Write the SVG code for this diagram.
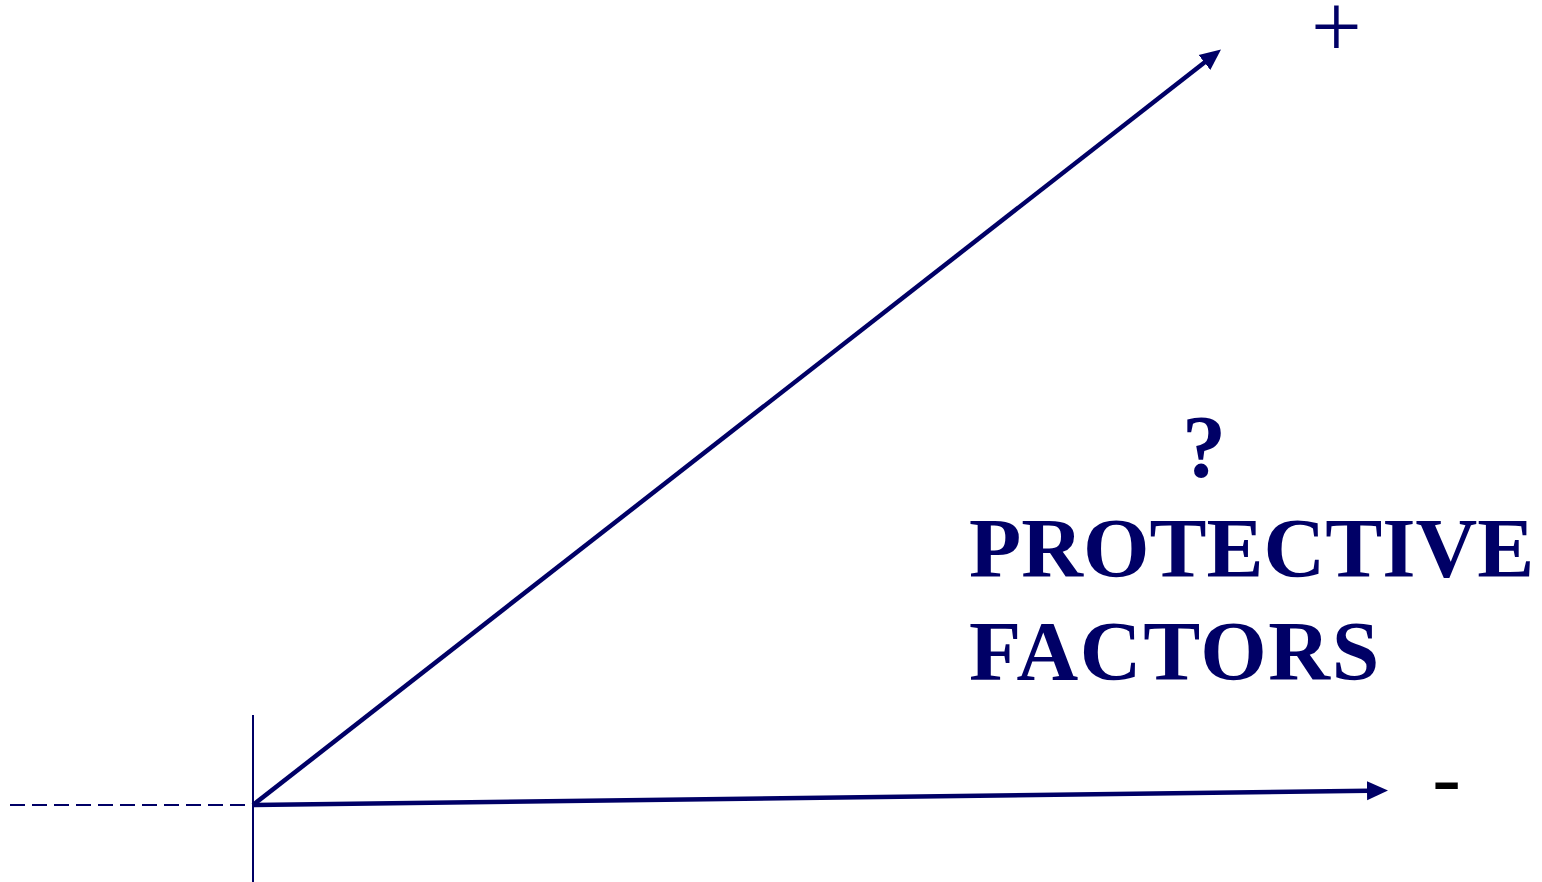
<svg xmlns="http://www.w3.org/2000/svg" width="1542" height="882" viewBox="0 0 1542 882">
<style>
.ln{stroke:#000066;fill:none}
.lbl{font-family:"Liberation Serif","Times New Roman",serif;font-weight:bold;fill:#000066}
</style>
<defs>
<marker id="ah" markerUnits="userSpaceOnUse" markerWidth="22" markerHeight="20" viewBox="0 -10 22 20" refX="2" refY="0" orient="auto">
<path d="M0,-9.5 L21,0 L0,9.5 Z" fill="#000066"/>
</marker>
</defs>
<rect width="1542" height="882" fill="#ffffff"/>
<g id="connectors">
<line class="ln" x1="10" y1="805" x2="253" y2="805" stroke-width="2" stroke-dasharray="15,7"/>
<line class="ln" x1="253" y1="715" x2="253" y2="882" stroke-width="2"/>
<line class="ln" x1="253" y1="805" x2="1206.02" y2="61.19" stroke-width="4.5" marker-end="url(#ah)"/>
<line class="ln" x1="253" y1="805" x2="1369" y2="790.74" stroke-width="4.5" marker-end="url(#ah)"/>
</g>
<g id="plus">
<text x="1336.5" y="57" font-family="Liberation Serif, serif" font-size="90" fill="#000066" text-anchor="middle">+</text>
</g>
<g id="minus">
<text x="1446.5" y="806" font-family="Liberation Serif, serif" font-size="86" fill="#000000" text-anchor="middle">-</text>
</g>
<g id="question">
<text class="lbl" x="1204" y="476" font-size="88" text-anchor="middle">?</text>
</g>
<g id="protective-factors">
<text class="lbl" x="969" y="577" font-size="85.5">PROTECTIVE</text>
<text class="lbl" x="969" y="680" font-size="85.5" letter-spacing="1.6">FACTORS</text>
</g>
</svg>
